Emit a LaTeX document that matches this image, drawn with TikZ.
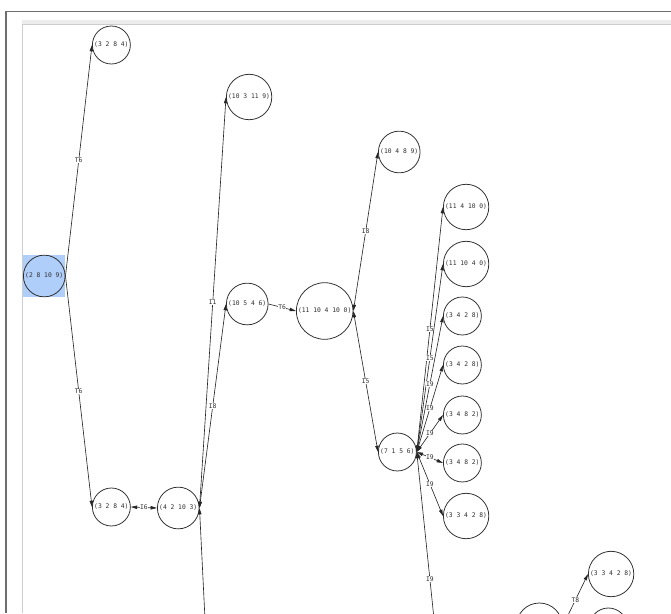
\documentclass[tikz,border=0pt]{standalone}
\usepackage{fontspec}
\setmonofont{DejaVu Sans Mono}
\usetikzlibrary{arrows.meta,backgrounds}
\definecolor{selblue}{RGB}{176,206,250}
\definecolor{framegray}{RGB}{110,110,110}
\definecolor{bargray}{RGB}{236,236,236}
\definecolor{rulegray}{RGB}{205,205,205}
\definecolor{inkgray}{RGB}{45,45,45}

\begin{document}
\begin{tikzpicture}[
      x=0.25mm, y=-0.25mm,
      font=\fontsize{4.5}{5}\ttfamily,
      state/.style={draw=inkgray, circle, line width=0.55pt, inner sep=1pt,
                    text=inkgray, anchor=west},
      lbl/.style={fill=white, inner sep=0.3pt, text=inkgray},
      edge/.style={draw=black!85, line width=0.45pt},
      >={Triangle[length=4.5pt, width=2.4pt]}
    ]
    \useasboundingbox (0,0) rectangle (671,613);
    \clip (0,0) rectangle (671,613);

    % window frame
    \draw[framegray, line width=1.4pt] (6,613) -- (6,11.5) -- (671,11.5);
    \fill[bargray] (22,20) rectangle (671,24);
    \draw[rulegray, line width=0.7pt] (22,24.5) -- (671,24.5);
    \draw[rulegray, line width=0.7pt] (22,24.5) -- (22,613);

    % root (selected)
    \node[state] (root) at (23,276) {(2 8 10 9)};
    \begin{scope}[on background layer]
      \fill[selblue] (root.west |- root.north) rectangle (root.east |- root.south);
    \end{scope}

    % states, placed by their west side
    \node[state] (b1) at (92,45)  {(3 2 8 4)};
    \node[state] (b2) at (92,507) {(3 2 8 4)};
    \node[state] (c)  at (157,508) {(4 2 10 3)};
    \node[state] (d)  at (226,97)  {(10 3 11 9)};
    \node[state] (e)  at (226,304) {(10 5 4 6)};
    \node[state] (f)  at (296,311) {(11 10 4 10 0)};
    \node[state] (g)  at (378,152) {(10 4 8 9)};
    \node[state] (i)  at (378,452) {(7 1 5 6)};
    \node[state] (j)  at (588,574) {(3 3 4 2 8)};
    \node[state, minimum size=11.5mm] (k) at (516,626) {};
    \node[state, minimum size=9.5mm]  (m) at (589,627) {};

    % free ends below the window
    \coordinate (cdown) at (212,760);
    \coordinate (idown) at (443,706);

    \draw[edge,->]  (root.east) -- node[lbl] {T6} (b1.west);
    \draw[edge,->]  (root.east) -- node[lbl] {T6} (b2.west);
    \draw[edge,<->] (b2.east) -- node[lbl] {I6} (c.west);
    \draw[edge,<->] (c.east) -- node[lbl] {I1} (d.west);
    \draw[edge,<->] (c.east) -- node[lbl] {I8} (e.west);
    \draw[edge,->]  (cdown) -- (c.east);
    \draw[edge,->]  (e.east) -- node[lbl] {T6} (f.west);
    \draw[edge,<->] (f.east) -- node[lbl] {I8} (g.west);
    \draw[edge,<->] (f.east) -- node[lbl] {I5} (i.west);

    % successors of (7 1 5 6)
    \foreach \n/\y/\t/\l in {h1/207/{(11 4 10 0)}/I5, h2/264/{(11 10 4 0)}/I5,
                             h3/316/{(3 4 2 8)}/I9, h4/365/{(3 4 2 8)}/I9,
                             h5/415/{(3 4 8 2)}/I9, h6/463/{(3 4 8 2)}/I9,
                             h7/516/{(3 3 4 2 8)}/I9} {
      \node[state] (\n) at (443,\y) {\t};
      \draw[edge,<->] (i.east) -- node[lbl] {\l} (\n.west);
    }
    \draw[edge,<->] (i.east) -- node[lbl] {I9} (idown);

    \draw[edge,->] (k.east) -- node[lbl] {T8} (j.west);
  \end{tikzpicture}
\end{document}
